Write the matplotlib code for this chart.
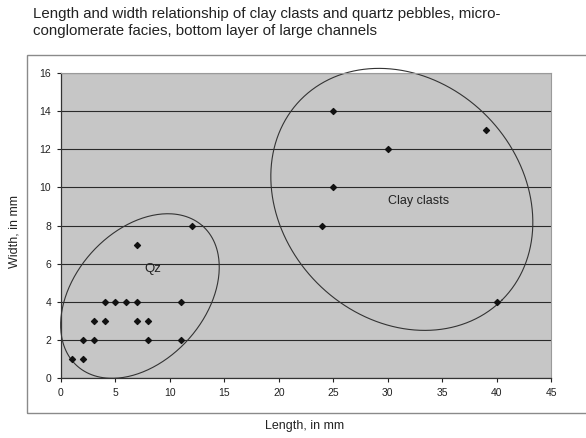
import numpy as np
import matplotlib
matplotlib.use("Agg")
import matplotlib.pyplot as plt
from matplotlib.patches import Rectangle

plt.rcParams['font.family'] = ['Liberation Sans', 'DejaVu Sans']

# quartz pebbles (length, width in mm)
qz_length = [1, 2, 2, 3, 3, 4, 4, 5, 6, 7, 7, 8, 8, 11, 11, 7, 12]
qz_width = [1, 1, 2, 2, 3, 3, 4, 4, 4, 4, 3, 3, 2, 2, 4, 7, 8]

# clay clasts
clay_length = [25, 39, 30, 25, 24, 40]
clay_width = [14, 13, 12, 10, 8, 4]

x_ticks = list(range(0, 50, 5))
y_ticks = list(range(0, 18, 2))

title = ("Length and width relationship of clay clasts and quartz pebbles, micro-\n"
         "conglomerate facies, bottom layer of large channels")

W, H = 586, 438
fig = plt.figure(figsize=(W / 100, H / 100), dpi=100)

# chart area frame
fig.patches.append(Rectangle((27 / W, 1 - 413 / H), 1.0, (413 - 55) / H,
                             transform=fig.transFigure, fill=False,
                             edgecolor="#8a8a8a", linewidth=1.0))

ax_l, ax_r, ax_t, ax_b = 61, 551, 73, 378
ax = fig.add_axes([ax_l / W, 1 - ax_b / H, (ax_r - ax_l) / W, (ax_b - ax_t) / H])
ax.set_facecolor("#c6c6c6")
ax.set_xlim(0, 45)
ax.set_ylim(0, 16)
ax.set_xticks(x_ticks)
ax.set_yticks(y_ticks)
ax.tick_params(labelsize=7.5, colors="#222222", length=3, width=0.8, pad=4)
for s in ["top", "right"]:
    ax.spines[s].set_color("#9a9a9a")
    ax.spines[s].set_linewidth(0.8)
for s in ["left", "bottom"]:
    ax.spines[s].set_color("#333333")
    ax.spines[s].set_linewidth(0.9)
ax.yaxis.grid(True, color="#2a2a2a", linewidth=0.8)
ax.set_axisbelow(True)

ax.scatter(qz_length, qz_width, marker="D", s=9, color="#111111", zorder=3)
ax.scatter(clay_length, clay_width, marker="D", s=9, color="#111111", zorder=3)

# hand drawn ellipses, sized in pixels
sx = (ax_r - ax_l) / 45.0
sy = (ax_b - ax_t) / 16.0


def ellipse(cx, cy, a, b, theta_deg):
    t = np.linspace(0, 2 * np.pi, 300)
    th = np.radians(theta_deg)
    px = a * np.cos(t) * np.cos(th) - b * np.sin(t) * np.sin(th)
    py = a * np.cos(t) * np.sin(th) + b * np.sin(t) * np.cos(th)
    ax.plot(cx + px / sx, cy + py / sy, color="#333333", linewidth=0.8,
            clip_on=False, zorder=2)


ellipse(7.25, 4.3, 94, 65, 48)
ellipse(31.3, 9.37, 142, 119, -45)

ax.text(8.4, 5.7, "Qz", fontsize=9.5, ha="center", va="center", color="#222222")
ax.text(32.8, 9.3, "Clay clasts", fontsize=9, ha="center", va="center", color="#222222")

fig.text(33 / W, 1 - 22.5 / H, title, fontsize=10.8, ha="left", va="center",
         color="#222222", linespacing=1.25)
fig.text(305 / W, 1 - 426 / H, "Length, in mm", fontsize=9, ha="center", va="center",
         color="#222222")
fig.text(15 / W, 1 - 232 / H, "Width, in mm", fontsize=9, ha="center", va="center",
         rotation=90, color="#222222")

fig.savefig("out.png", dpi=100)
